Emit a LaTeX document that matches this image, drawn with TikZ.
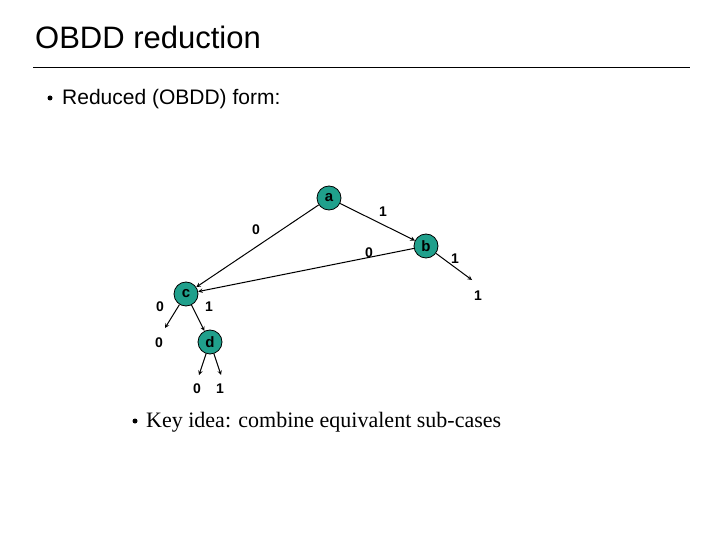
\documentclass[tikz,border=0pt]{standalone}
\usepackage{fontspec}
\setmainfont{Liberation Sans}
\newfontfamily\timesf{Liberation Serif}
\definecolor{teal2}{RGB}{32,160,140}
\begin{document}
\begin{tikzpicture}[x=1pt,y=-1pt,
  vnode/.style={circle,draw=black,line width=0.8pt,fill=teal2,minimum size=24pt,inner sep=0pt,font=\fontsize{15}{15}\selectfont\bfseries},
  lab/.style={font=\fontsize{14}{14}\selectfont\bfseries,inner sep=0pt},
  edge/.style={-stealth,line width=1pt}]
\useasboundingbox (0,0) rectangle (720,540);
\node[anchor=base west,inner sep=0pt,font=\fontsize{31}{31}\selectfont] (title) at (35,49) {OBDD reduction};
\draw[line width=0.6pt] (33,67) coordinate (l1) -- (690,67) coordinate (l2);
\node[circle,fill=black,inner sep=0pt,minimum size=5pt] (b1) at (50,98) {};
\node[anchor=base west,inner sep=0pt,font=\fontsize{21}{21}\selectfont] (t1) at (62,105) {Reduced (OBDD) form:};
\node[circle,fill=black,inner sep=0pt,minimum size=5pt] (b2) at (135,421) {};
\node[anchor=base west,inner sep=0pt,font=\fontsize{22}{22}\selectfont\timesf] (t2) at (146,427) {Key idea: combine equivalent sub-cases};
\node[vnode] (a) at (329,198) {a};
\node[vnode] (b) at (426,246) {b};
\node[vnode] (c) at (186,294) {c};
\node[vnode] (d) at (210,342) {d};
\node[lab] (t1b) at (478,296) {1};
\node[lab] (t0c) at (159,343) {0};
\node[lab] (t0d) at (197,389) {0};
\node[lab] (t1d) at (220,389) {1};
\draw[edge] (a) -- (c);
\draw[edge] (a) -- (b);
\draw[edge] (b) -- (c);
\draw[edge] (b) -- (472,280) coordinate (e1);
\draw[edge] (c) -- (165,328) coordinate (e2);
\draw[edge] (c) -- (d);
\draw[edge] (d) -- (199,375) coordinate (e3);
\draw[edge] (d) -- (221,375) coordinate (e4);
\node[lab] (la0) at (256,230) {0};
\node[lab] (la1) at (383,212) {1};
\node[lab] (lb0) at (369,253) {0};
\node[lab] (lb1) at (455,259) {1};
\node[lab] (lc0) at (160,307) {0};
\node[lab] (lc1) at (209,307) {1};
\end{tikzpicture}
\end{document}
